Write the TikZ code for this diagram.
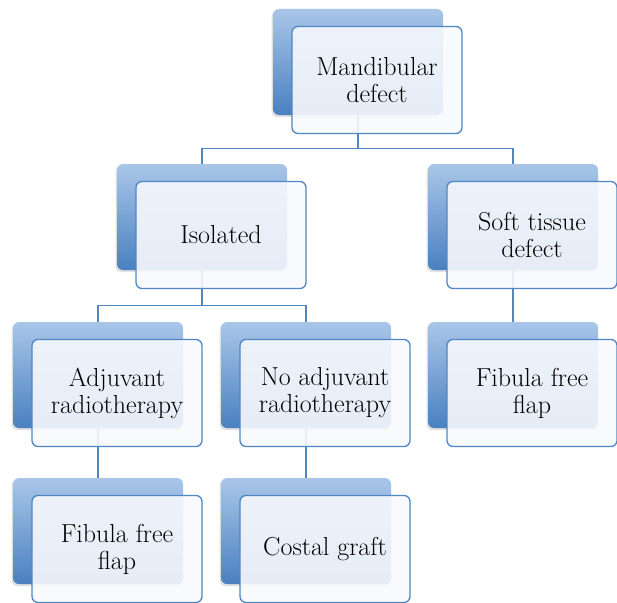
\documentclass[tikz,border=0pt]{standalone}
\usepackage{fontspec}
\usetikzlibrary{shadows,backgrounds}

\definecolor{bleuclair}{HTML}{A9C6E8}
\definecolor{bleufonce}{HTML}{4A80C0}
\definecolor{bordure}{HTML}{4F87C4}
\definecolor{fondclair}{HTML}{F7F9FD}

\tikzset{
  arriere/.style={rectangle, rounded corners=6pt, minimum width=170pt, minimum height=106pt,
    top color=bleuclair, bottom color=bleufonce,
    drop shadow={opacity=0.25, shadow xshift=-1.5pt, shadow yshift=-2pt}},
  avant/.style={rectangle, rounded corners=6pt, draw=bordure, line width=1.3pt,
    fill=fondclair, fill opacity=0.9, text opacity=1, minimum width=170pt, minimum height=107pt,
    align=center, font=\fontsize{26}{27}\selectfont},
  lien/.style={draw=bordure, line width=1.3pt}
}

\begin{document}
\begin{tikzpicture}[x=1pt, y=-1pt]
    \useasboundingbox (0,0) rectangle (617,602);

    % Niveau 1
    \node[arriere] (mdb) at (358,62) {};
    \node[avant] (md) at ([shift={(19,18)}]mdb) {Mandibular\\defect};

    % Niveau 2
    \node[arriere] (isob) at (202,217) {};
    \node[avant] (iso) at ([shift={(19,18)}]isob) {Isolated};
    \node[arriere] (softb) at (513,217) {};
    \node[avant] (soft) at ([shift={(19,18)}]softb) {Soft tissue\\defect};

    % Niveau 3
    \node[arriere] (adjb) at (98,375) {};
    \node[avant] (adj) at ([shift={(19,18)}]adjb) {Adjuvant\\radiotherapy};
    \node[arriere] (noadjb) at (306,375) {};
    \node[avant] (noadj) at ([shift={(19,18)}]noadjb) {No adjuvant\\radiotherapy};
    \node[arriere] (fibdb) at (513,375) {};
    \node[avant] (fibd) at ([shift={(19,18)}]fibdb) {Fibula free\\flap};

    % Niveau 4
    \node[arriere] (fibgb) at (98,531) {};
    \node[avant] (fibg) at ([shift={(19,18)}]fibgb) {Fibula free\\flap};
    \node[arriere] (costb) at (306,531) {};
    \node[avant] (cost) at ([shift={(19,18)}]costb) {Costal graft};

    % Liens (derrière les boîtes)
    \begin{scope}[on background layer]
        \draw[lien] (mdb.south) -- ++(0,33) -| (isob.north);
        \draw[lien] (mdb.south) -- ++(0,33) -| (softb.north);
        \draw[lien] (isob.south) -- ++(0,35) -| (adjb.north);
        \draw[lien] (isob.south) -- ++(0,35) -| (noadjb.north);
        \draw[lien] (softb.south) -- (fibdb.north);
        \draw[lien] (adjb.south) -- (fibgb.north);
        \draw[lien] (noadjb.south) -- (costb.north);
    \end{scope}
\end{tikzpicture}
\end{document}
